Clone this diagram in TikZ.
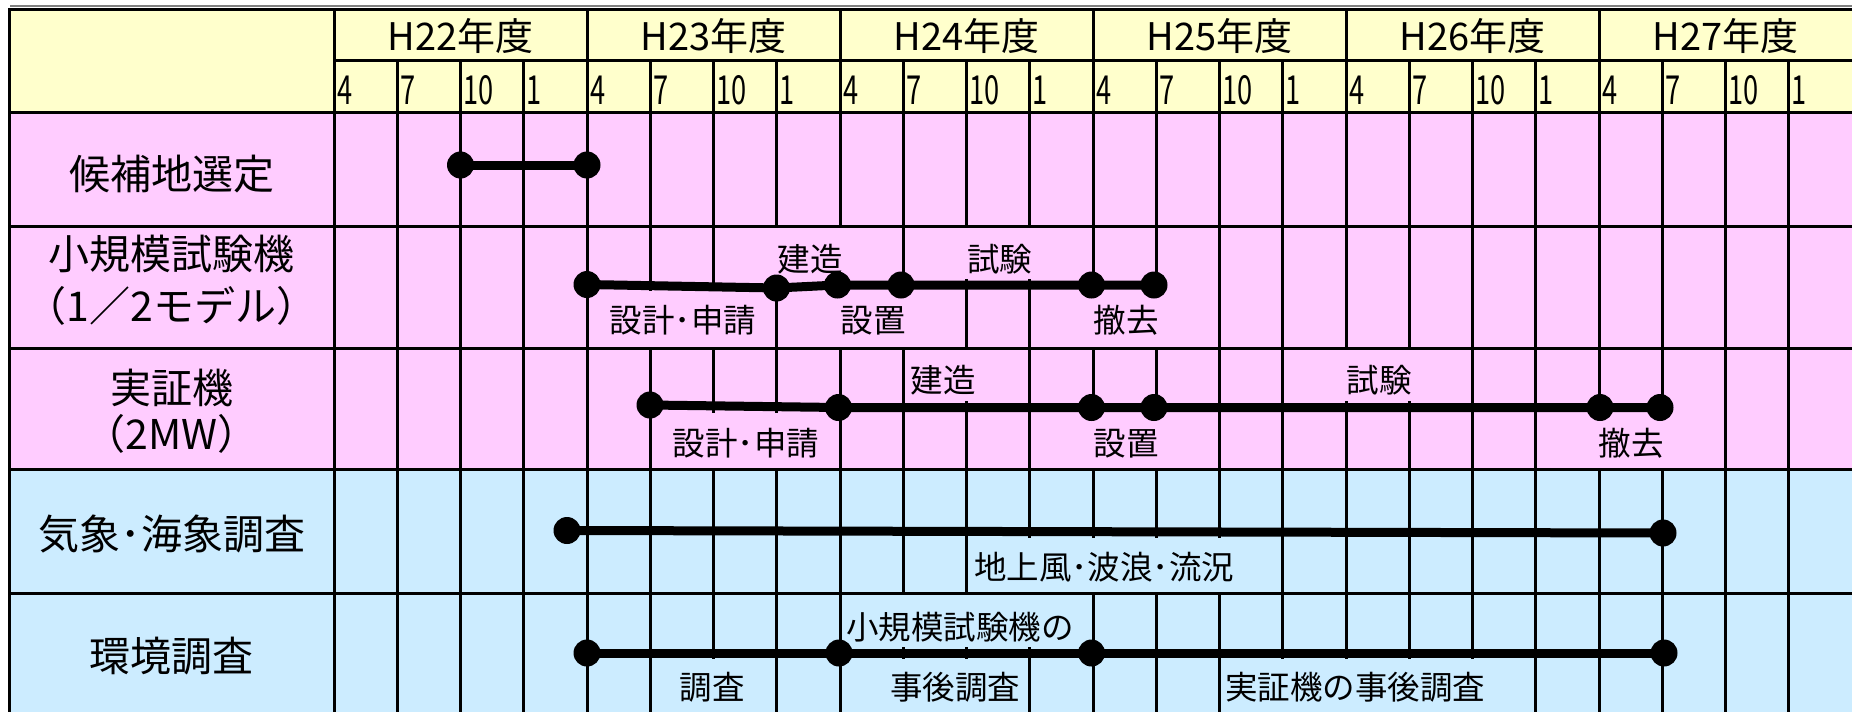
\documentclass[tikz,border=0pt]{standalone}
\usepackage{fontspec}
\setmainfont{Noto Sans CJK JP}
\newfontfamily\monfont{Noto Sans CJK JP}[FakeStretch=0.68]
\definecolor{hdr}{HTML}{FFFFCC}
\definecolor{pinkc}{HTML}{FFCCFF}
\definecolor{bluec}{HTML}{CCECFF}
\begin{document}
\begin{tikzpicture}[x=1pt,y=-1pt,
  gl/.style={line width=3pt},
  rowlab/.style={font=\fontsize{41pt}{52pt}\selectfont, align=center, inner sep=0pt},
  yr/.style={font=\fontsize{38pt}{38pt}\selectfont, inner sep=0pt},
  mon/.style={font=\monfont\fontsize{40pt}{40pt}\selectfont, inner sep=1pt, anchor=west},
  lb/.style={font=\fontsize{32.5pt}{32.5pt}\selectfont, inner xsep=4pt, inner ysep=0pt, anchor=base},
  pk/.style={lb, fill=pinkc},
  bl/.style={lb, fill=bluec},
  dot/.style={circle, fill=black, inner sep=0pt, minimum size=27pt},
  bar/.style={line width=9pt},
]
\useasboundingbox (0,0) rectangle (1852,712);
% fills
\fill[hdr] (9.5,9.5) rectangle (1852,112);
\fill[pinkc] (9.5,112) rectangle (1852,469.5);
\fill[bluec] (9.5,469.5) rectangle (1852,712);
\draw[gray, line width=1.2pt] (10,6) -- (1852,6);
% grid
\draw[gl] (8,9.5) -- (1852,9.5);
\draw[gl] (9.5,8) -- (9.5,712);
\draw[gl] (334,60) -- (1852,60);
\foreach \y in {112,226.5,348,469.5,593.5} \draw[gl] (9.5,\y) -- (1852,\y);
\draw[gl] (334,9.5) -- (334,712);
\foreach \k in {4,8,12,16,20} \draw[gl] ({334+63.25*\k},9.5) -- ({334+63.25*\k},712);
\foreach \k in {1,2,3,5,6,7,9,10,11,13,14,15,17,18,19,21,22,23}
  \draw[gl] ({334+63.25*\k},60) -- ({334+63.25*\k},712);
% header
\foreach \yy [count=\i from 0] in {22,23,24,25,26,27}
  \node[yr] (y\yy) at ({334+63.25*(4*\i+2)},36) {H\yy{}年度};
\foreach \m [count=\k from 0] in {4,7,10,1,4,7,10,1,4,7,10,1,4,7,10,1,4,7,10,1,4,7,10,1}
  \node[mon] (m\k) at ({334+63.25*\k+2},90) {\m};
% row labels
\node[rowlab] (r1) at (171.75,174) {候補地選定};
\node[rowlab] (r2) at (171.75,280) {小規模試験機\\（1／2モデル）};
\node[rowlab, font=\fontsize{41pt}{46pt}\selectfont] (r3) at (171.75,411) {実証機\\（2MW）};
\node[rowlab] (r4) at (171.75,534) {気象･海象調査};
\node[rowlab] (r5) at (171.75,656) {環境調査};
% bar labels row 2
\node[pk, text height=43.35pt, text depth=7.65pt] (l21) at (810,271.35) {建造};
\node[pk, text height=43.35pt, text depth=7.65pt] (l22) at (999.6,271.35) {試験};
\node[pk, text height=41.35pt, text depth=14.15pt] (l23) at (683,332.35) {設計･申請};
\node[pk, text height=41.35pt, text depth=14.15pt] (l24) at (873,332.35) {設置};
\node[pk, text height=41.35pt, text depth=14.15pt] (l25) at (1126,332.35) {撤去};
% row 3
\node[pk, text height=42.85pt, text depth=8.65pt] (l31) at (943,392.35) {建造};
\node[pk, text height=42.85pt, text depth=8.65pt] (l32) at (1379,392.35) {試験};
\node[pk, text height=42.35pt, text depth=12.65pt] (l33) at (746,455.35) {設計･申請};
\node[pk, text height=42.35pt, text depth=12.65pt] (l34) at (1126,455.35) {設置};
\node[pk, text height=42.35pt, text depth=12.65pt] (l35) at (1631,455.35) {撤去};
% row 4
\node[bl, text height=41.35pt, text depth=12.65pt] (l41) at (1104,579.35) {地上風･波浪･流況};
% row 5
\node[bl, text height=44.35pt, text depth=7.65pt] (l51) at (960,639.35) {小規模試験機の};
\node[bl, text height=40.35pt, text depth=12.65pt] (l52) at (712,699.35) {調査};
\node[bl, text height=40.35pt, text depth=12.65pt] (l53) at (955,699.35) {事後調査};
\node[bl, text height=40.35pt, text depth=12.65pt] (l54) at (1355,699.35) {実証機の事後調査};
% dots
\node[dot] (a1) at (460.5,165) {};
\node[dot] (a2) at (587,165) {};
\node[dot] (b1) at (587,284.5) {};
\node[dot] (b2) at (776.5,288) {};
\node[dot] (b3) at (837.5,285) {};
\node[dot] (b4) at (901,285) {};
\node[dot] (b5) at (1091.5,285) {};
\node[dot] (b6) at (1154,285) {};
\node[dot] (c1) at (650,405) {};
\node[dot] (c2) at (838.5,407.5) {};
\node[dot] (c3) at (1091.5,407.5) {};
\node[dot] (c4) at (1154,407.5) {};
\node[dot] (c5) at (1600,407.5) {};
\node[dot] (c6) at (1660,407.5) {};
\node[dot] (d1) at (567,530.5) {};
\node[dot] (d2) at (1663,533) {};
\node[dot] (e1) at (587,653) {};
\node[dot] (e2) at (839,653) {};
\node[dot] (e3) at (1091.5,653) {};
\node[dot] (e4) at (1664,653) {};
% bars
\draw[bar] (a1.center) -- (a2.center);
\draw[bar] (b1.center) -- (b2.center) -- (b3.center) -- (b4.center) -- (b5.center) -- (b6.center);
\draw[bar] (c1.center) -- (c2.center) -- (c3.center) -- (c4.center) -- (c5.center) -- (c6.center);
\draw[bar] (d1.center) -- (d2.center);
\draw[bar] (e1.center) -- (e2.center) -- (e3.center) -- (e4.center);
\end{tikzpicture}
\end{document}
